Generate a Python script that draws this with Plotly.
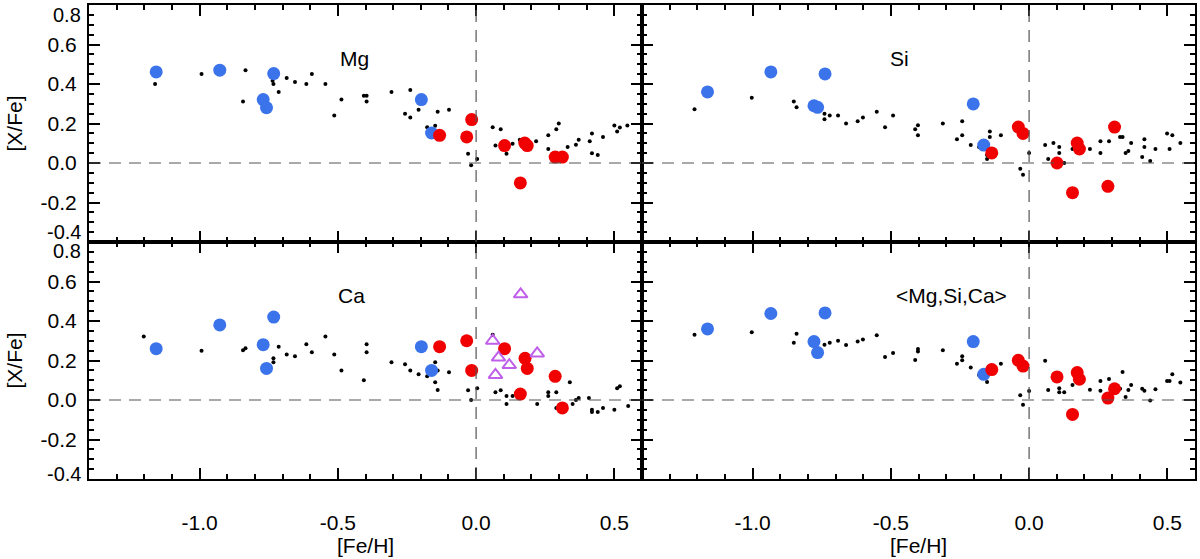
import plotly.graph_objects as go

# ---- Mg ----
mg_dot_x = [-1.161, -0.993, -0.834, -0.843, -0.736, -0.733, -0.714, -0.685, -0.655, -0.614, -0.594,
            -0.545, -0.513, -0.487, -0.406, -0.396, -0.396, -0.306, -0.238, -0.257, -0.238, -0.208,
            -0.177, -0.148, -0.139, -0.098, -0.145, -0.139, -0.029, -0.018, 0.004, 0.060, 0.089,
            0.070, 0.110, 0.110, 0.132, 0.158, 0.217, 0.261, 0.261, 0.290, 0.299, 0.331, 0.309,
            0.361, 0.371, 0.411, 0.419, 0.419, 0.440, 0.459, 0.500, 0.510, 0.520, 0.547]
mg_dot_y = [0.40, 0.451, 0.47, 0.311, 0.417, 0.40, 0.36, 0.431, 0.41, 0.40, 0.451,
            0.40, 0.24, 0.321, 0.34, 0.34, 0.311, 0.36, 0.37, 0.25, 0.23, 0.27,
            0.181, 0.188, 0.26, 0.27, 0.14, 0.122, 0.047, -0.012, 0.02, 0.181, 0.171,
            0.088, 0.098, 0.047, 0.098, 0.118, 0.11, 0.14, 0.071, 0.171, 0.20, 0.081, 0.02,
            0.093, 0.118, 0.11, 0.15, 0.05, 0.04, 0.132, 0.19, 0.16, 0.18, 0.19]
mg_blue_x = [-1.157, -0.927, -0.732, -0.770, -0.758, -0.198, -0.161]
mg_blue_y = [0.461, 0.470, 0.453, 0.321, 0.280, 0.321, 0.152]
mg_red_x = [-0.132, -0.034, -0.016, 0.103, 0.176, 0.185, 0.160, 0.286, 0.312]
mg_red_y = [0.140, 0.132, 0.220, 0.088, 0.101, 0.088, -0.101, 0.030, 0.030]

# ---- Si ----
si_dot_x = [-1.21, -1.003, -0.851, -0.841, -0.74, -0.74, -0.721, -0.691, -0.662, -0.62, -0.601,
            -0.551, -0.521, -0.492, -0.412, -0.402, -0.402, -0.312, -0.261, -0.242, -0.242, -0.211,
            -0.181, -0.152, -0.152, -0.142, -0.142, -0.102, -0.032, -0.022, 0.0, 0.058, 0.069,
            0.088, 0.109, 0.109, 0.127, 0.157, 0.22, 0.258, 0.258, 0.289, 0.329, 0.338, 0.369,
            0.349, 0.359, 0.409, 0.417, 0.417, 0.438, 0.457, 0.499, 0.518, 0.508, 0.547]
si_dot_y = [0.272, 0.331, 0.312, 0.282, 0.25, 0.221, 0.24, 0.24, 0.20, 0.211, 0.23,
            0.26, 0.181, 0.24, 0.171, 0.191, 0.14, 0.20, 0.12, 0.211, 0.14, 0.091,
            0.081, 0.041, 0.02, 0.16, 0.132, 0.14, -0.029, -0.059, 0.051, 0.091, 0.02,
            0.101, 0.081, 0.051, 0.0, 0.071, 0.071, 0.11, 0.051, 0.11, 0.132, 0.132, 0.101,
            0.051, 0.061, 0.03, 0.12, 0.081, 0.01, 0.071, 0.15, 0.14, 0.071, 0.101]
si_blue_x = [-1.163, -0.934, -0.738, -0.778, -0.765, -0.202, -0.164]
si_blue_y = [0.360, 0.461, 0.451, 0.290, 0.282, 0.299, 0.091]
si_red_x = [-0.135, -0.039, -0.022, 0.101, 0.174, 0.182, 0.157, 0.285, 0.309]
si_red_y = [0.051, 0.182, 0.150, 0.000, 0.101, 0.071, -0.150, -0.118, 0.182]

# ---- Ca ----
ca_dot_x = [-1.202, -0.993, -0.843, -0.834, -0.733, -0.733, -0.714, -0.685, -0.655, -0.614, -0.594,
            -0.545, -0.513, -0.487, -0.406, -0.396, -0.396, -0.306, -0.257, -0.238, -0.208, -0.177,
            -0.148, -0.139, -0.148, -0.139, -0.098, -0.029, -0.018, 0.004, 0.060, 0.070, 0.089,
            0.110, 0.110, 0.132, 0.160, 0.221, 0.261, 0.261, 0.290, 0.290, 0.339, 0.349, 0.361,
            0.371, 0.408, 0.419, 0.419, 0.440, 0.459, 0.500, 0.510, 0.520, 0.550]
ca_dot_y = [0.321, 0.25, 0.252, 0.262, 0.211, 0.191, 0.27, 0.231, 0.221, 0.282, 0.242,
            0.321, 0.231, 0.15, 0.10, 0.282, 0.242, 0.191, 0.181, 0.15, 0.13, 0.12,
            0.191, 0.15, 0.09, 0.051, 0.14, 0.049, 0.0, 0.059, 0.33, 0.039, 0.049,
            0.02, -0.02, 0.02, 0.039, -0.02, 0.039, 0.02, 0.039, -0.04, 0.09, -0.02, 0.0,
            0.01, 0.01, -0.049, -0.061, -0.061, -0.04, -0.049, 0.059, 0.069, -0.03]
ca_blue_x = [-1.157, -0.927, -0.732, -0.770, -0.758, -0.198, -0.161]
ca_blue_y = [0.260, 0.380, 0.420, 0.280, 0.160, 0.270, 0.150]
ca_red_x = [-0.132, -0.034, -0.016, 0.103, 0.177, 0.185, 0.160, 0.286, 0.312]
ca_red_y = [0.270, 0.300, 0.150, 0.260, 0.211, 0.160, 0.030, 0.120, -0.040]
ca_tri_x = [0.161, 0.060, 0.081, 0.070, 0.120, 0.221]
ca_tri_y = [0.535, 0.300, 0.215, 0.127, 0.177, 0.236]

# ---- <Mg,Si,Ca> ----
av_dot_x = [-1.21, -1.003, -0.851, -0.841, -0.74, -0.721, -0.691, -0.662, -0.62, -0.601, -0.551,
            -0.521, -0.492, -0.412, -0.402, -0.402, -0.312, -0.261, -0.242, -0.242, -0.211, -0.181,
            -0.152, -0.152, -0.142, -0.102, -0.032, -0.022, 0.0, 0.058, 0.069, 0.088, 0.109,
            0.109, 0.127, 0.157, 0.22, 0.258, 0.258, 0.289, 0.338, 0.329, 0.349, 0.359, 0.369,
            0.409, 0.417, 0.438, 0.457, 0.499, 0.508, 0.518, 0.547]
av_dot_y = [0.331, 0.343, 0.29, 0.336, 0.28, 0.29, 0.30, 0.279, 0.296, 0.306, 0.328,
            0.218, 0.238, 0.203, 0.258, 0.245, 0.252, 0.184, 0.221, 0.201, 0.164, 0.127,
            0.091, 0.127, 0.139, 0.184, 0.024, -0.024, 0.046, 0.199, 0.051, 0.11, 0.059,
            0.039, 0.039, 0.076, 0.052, 0.096, 0.047, 0.106, 0.142, 0.057, 0.015, 0.051, 0.076,
            0.057, 0.047, -0.003, 0.054, 0.096, 0.096, 0.13, 0.088]
av_blue_x = [-1.163, -0.934, -0.738, -0.778, -0.765, -0.202, -0.164]
av_blue_y = [0.360, 0.438, 0.441, 0.296, 0.240, 0.296, 0.130]
av_red_x = [-0.135, -0.039, -0.022, 0.101, 0.174, 0.182, 0.157, 0.285, 0.309]
av_red_y = [0.154, 0.201, 0.172, 0.117, 0.139, 0.105, -0.073, 0.010, 0.057]

panel_labels = ["Mg", "Si", "Ca", "&lt;Mg,Si,Ca&gt;"]
label_x = [-0.44, -0.47, -0.45, -0.28]
label_y = 0.53

x_ticks = [-1.0, -0.5, 0.0, 0.5]
x_ticktext = ["-1.0", "-0.5", "0.0", "0.5"]
y_ticks = [-0.4, -0.2, 0.0, 0.2, 0.4, 0.6, 0.8]
y_ticktext = ["", "-0.2", "0.0", "0.2", "0.4", "0.6", ""]

BLUE = "#3B73EB"
RED = "#F00000"
PURPLE = "#BF5FEA"
FONT = "Liberation Sans, Arial, Helvetica, sans-serif"

panels = [
    (mg_dot_x, mg_dot_y, mg_blue_x, mg_blue_y, mg_red_x, mg_red_y),
    (si_dot_x, si_dot_y, si_blue_x, si_blue_y, si_red_x, si_red_y),
    (ca_dot_x, ca_dot_y, ca_blue_x, ca_blue_y, ca_red_x, ca_red_y),
    (av_dot_x, av_dot_y, av_blue_x, av_blue_y, av_red_x, av_red_y),
]
# panel index -> (x domain, y domain)
domains = [([0, 0.5], [0.5, 1]), ([0.5, 1], [0.5, 1]),
           ([0, 0.5], [0, 0.5]), ([0.5, 1], [0, 0.5])]

fig = go.Figure()
layout = {}
shapes = []
annotations = []

for i, (dx, dy, bx, by, rx, ry) in enumerate(panels):
    n = "" if i == 0 else str(i + 1)
    xa, ya = "x" + n, "y" + n
    fig.add_trace(go.Scatter(x=dx, y=dy, mode="markers", xaxis=xa, yaxis=ya,
                             marker=dict(size=4, color="black"), showlegend=False))
    fig.add_trace(go.Scatter(x=bx, y=by, mode="markers", xaxis=xa, yaxis=ya,
                             marker=dict(size=13, color=BLUE), showlegend=False))
    fig.add_trace(go.Scatter(x=rx, y=ry, mode="markers", xaxis=xa, yaxis=ya,
                             marker=dict(size=13, color=RED), showlegend=False))
    if i == 2:
        fig.add_trace(go.Scatter(x=ca_tri_x, y=ca_tri_y, mode="markers", xaxis=xa, yaxis=ya,
                                 marker=dict(size=12, symbol="triangle-up-open", color=PURPLE,
                                             line=dict(width=2, color=PURPLE)),
                                 showlegend=False))

    xd, yd = domains[i]
    bottom = i >= 2
    left = i % 2 == 0
    layout["xaxis" + n] = dict(
        domain=xd, range=[-1.4, 0.6], anchor=ya, showline=True, linewidth=2,
        linecolor="black", mirror="allticks", ticks="inside", ticklen=11, tickwidth=2,
        tickcolor="black", tickmode="array", tickvals=x_ticks, ticktext=x_ticktext,
        showticklabels=bottom, ticklabelstandoff=24, showgrid=False, zeroline=False,
        tickfont=dict(size=21, color="black"),
        minor=dict(ticks="inside", dtick=0.1, tick0=0, ticklen=5, tickwidth=2,
                   tickcolor="black", showgrid=False),
    )
    layout["yaxis" + n] = dict(
        domain=yd, range=[-0.4, 0.8], anchor=xa, showline=True, linewidth=2,
        linecolor="black", mirror="allticks", ticks="inside", ticklen=11, tickwidth=2,
        tickcolor="black", tickmode="array", tickvals=y_ticks, ticktext=y_ticktext,
        showticklabels=left, ticklabelstandoff=6, showgrid=False, zeroline=False,
        tickfont=dict(size=21, color="black"),
        minor=dict(ticks="inside", dtick=0.05, tick0=0, ticklen=5, tickwidth=2,
                   tickcolor="black", showgrid=False),
    )

    # dashed reference lines at 0
    shapes.append(dict(type="line", xref=xa + " domain", yref=ya, x0=0, x1=1, y0=0, y1=0,
                       line=dict(color="#555555", width=1.2, dash="12px,8px")))
    shapes.append(dict(type="line", xref=xa, yref=ya + " domain", x0=0, x1=0, y0=0, y1=1,
                       line=dict(color="#555555", width=1.2, dash="12px,8px")))

    annotations.append(dict(x=label_x[i], y=label_y, xref=xa, yref=ya, text=panel_labels[i],
                            showarrow=False, font=dict(size=21, color="black", family=FONT)))

    if left:
        # edge tick labels pulled inside the panel
        annotations.append(dict(x=0, y=0.8, xref="paper", yref=ya, text="0.8", xanchor="right",
                                xshift=-6, yshift=-10 if i == 0 else -9, showarrow=False,
                                font=dict(size=20, color="black", family=FONT)))
        annotations.append(dict(x=0, y=-0.4, xref="paper", yref=ya, text="-0.4", xanchor="right",
                                xshift=-6, yshift=10 if i == 0 else 5, showarrow=False,
                                font=dict(size=20, color="black", family=FONT)))
        annotations.append(dict(x=0, y=0.2, xref="paper", yref=ya, text="[X/Fe]",
                                textangle=-90, xanchor="center", xshift=-75, showarrow=False,
                                font=dict(size=21, color="black", family=FONT)))
    if bottom:
        annotations.append(dict(x=-0.4, y=0, xref=xa, yref="paper", text="[Fe/H]",
                                yanchor="middle", yshift=-66, showarrow=False,
                                font=dict(size=21, color="black", family=FONT)))

fig.update_layout(
    **layout,
    shapes=shapes,
    annotations=annotations,
    width=1200,
    height=559,
    margin=dict(l=89, r=3, t=4, b=80),
    paper_bgcolor="white",
    plot_bgcolor="white",
    font=dict(family=FONT, size=21, color="black"),
)

fig.write_html("out.html", config={"displayModeBar": False},
               post_script="document.body.style.margin='0px';")
